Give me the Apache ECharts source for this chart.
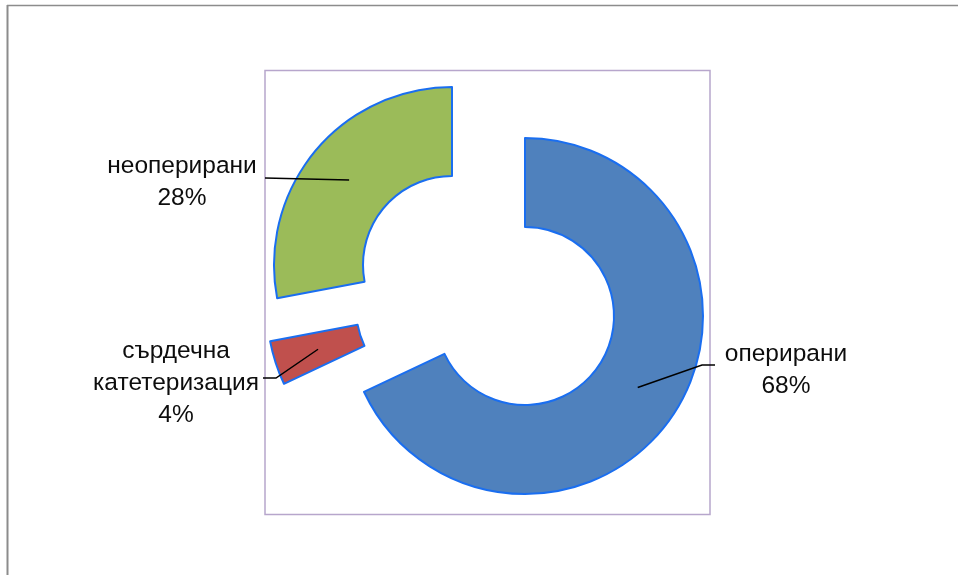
<!DOCTYPE html>
<html>
<head>
<meta charset="utf-8">
<script src="https://cdn.jsdelivr.net/npm/echarts@6/dist/echarts.min.js"></script>
<style>
html,body{margin:0;padding:0;background:#fff;}
#main{width:958px;height:575px;}
</style>
</head>
<body>
<div id="main"></div>
<script>
var categories = ['оперирани', 'сърдечна катетеризация', 'неоперирани'];
var labelNames = ['оперирани', 'сърдечна\nкатетеризация', 'неоперирани'];
var values = [68, 4, 28];
var colors = ['#4F81BD', '#C0504D', '#9BBB59'];

// layout (pixels)
var sliceCenters = [[525, 316], [445, 308], [452, 265]];
var rIn = 89, rOut = 178;
var labelPos = [[786, 370], [176, 383], [182, 182]];
var labelElbow = [[702, 365], [276, 378], null];
var labelEnd = [[715, 365], [263, 378], [265, 178]];

var total = values.reduce(function (a, b) { return a + b; }, 0);
function midAngle(i) {
  var s = 0;
  for (var k = 0; k < i; k++) s += values[k];
  return (s + values[i] / 2) / total * 2 * Math.PI; // clockwise from 12 o'clock
}
function anchor(i) {
  var a = midAngle(i), rm = (rIn + rOut) / 2, c = sliceCenters[i];
  return [c[0] + rm * Math.sin(a), c[1] - rm * Math.cos(a)];
}

var series = categories.map(function (cat, si) {
  return {
    type: 'pie',
    center: sliceCenters[si],
    radius: [rIn, rOut],
    startAngle: 90,
    clockwise: true,
    avoidLabelOverlap: false,
    silent: true,
    animation: false,
    emphasis: { disabled: true },
    data: categories.map(function (c, i) {
      var vis = i === si;
      return {
        name: c,
        value: values[i],
        itemStyle: vis ? { color: colors[i], borderColor: '#1A6EF0', borderWidth: 2 }
                       : { color: 'rgba(0,0,0,0)', borderWidth: 0 },
        label: {
          show: vis,
          position: 'outside',
          formatter: labelNames[i] + '\n' + values[i] + '%',
          color: '#0d0d0d',
          fontFamily: 'Liberation Sans, Arial, sans-serif',
          fontSize: 24.5,
          lineHeight: 32,
          align: 'center'
        },
        labelLine: { show: false }
      };
    }),
    labelLayout: function (p) {
      var i = p.dataIndex;
      return {
        x: labelPos[i][0],
        y: labelPos[i][1],
        align: 'center',
        verticalAlign: 'middle'
      };
    }
  };
});

var leaderLines = categories.map(function (c, i) {
  var pts = [anchor(i)];
  if (labelElbow[i]) pts.push(labelElbow[i]);
  pts.push(labelEnd[i]);
  return {
    type: 'polyline',
    z: 100,
    silent: true,
    shape: { points: pts },
    style: { stroke: '#000', lineWidth: 1.5, fill: null }
  };
});

var chart = echarts.init(document.getElementById('main'), null, { renderer: 'canvas' });
chart.setOption({
  backgroundColor: '#fff',
  animation: false,
  graphic: [
    { type: 'line', shape: { x1: 7.5, y1: 5, x2: 7.5, y2: 575 }, style: { stroke: '#8c8c8c', lineWidth: 2 } },
    { type: 'line', shape: { x1: 7, y1: 5.5, x2: 958, y2: 5.5 }, style: { stroke: '#8c8c8c', lineWidth: 1.5 } },
    { type: 'rect', z: -1, shape: { x: 265, y: 70.5, width: 445, height: 444 }, style: { fill: 'none', stroke: '#B7A6CC', lineWidth: 1.5 } }
  ].concat(leaderLines),
  series: series
});
</script>
</body>
</html>
